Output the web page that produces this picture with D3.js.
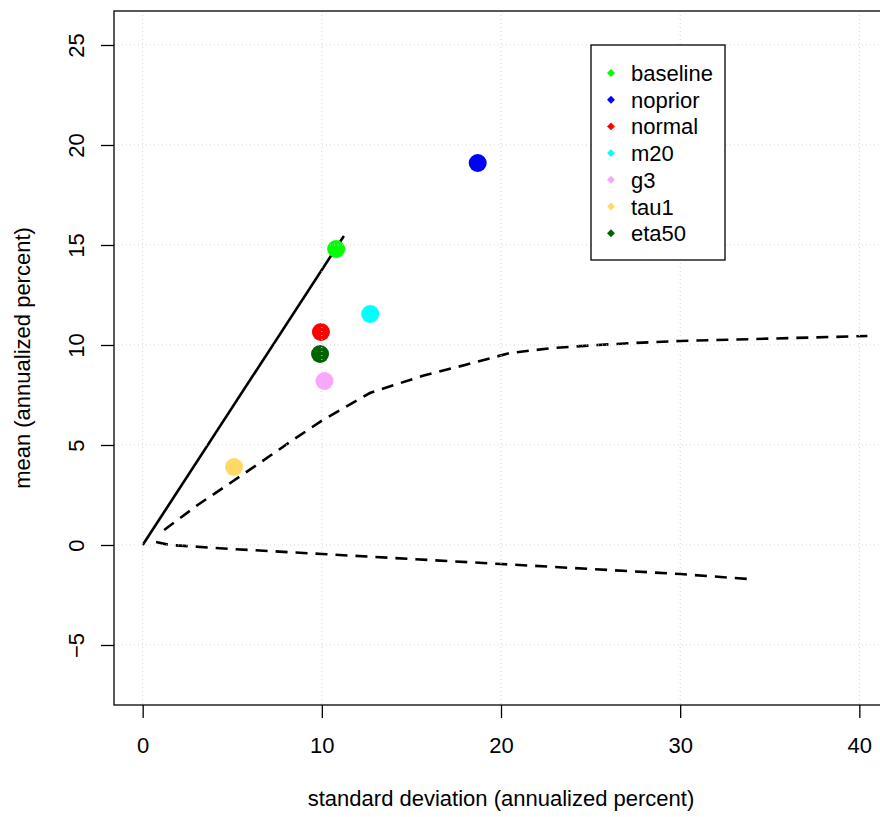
<!DOCTYPE html>
<html>
<head>
<meta charset="utf-8">
<script src="https://cdn.jsdelivr.net/npm/d3@7"></script>
<style>
  body { margin: 0; background: #fff; }
  svg text { font-family: "Liberation Sans", Arial, sans-serif; fill: #000; }
</style>
</head>
<body>
<svg id="chart" width="880" height="817"></svg>
<script>
// series / point data
const names = ['baseline', 'noprior', 'normal', 'm20', 'g3', 'tau1', 'eta50'];
const colors = ['#00ff00', '#0000ff', '#ff0000', '#00ffff', '#f9a8f9', '#ffd966', '#006400'];
const sdVals = [10.8, 18.7, 9.95, 12.7, 10.15, 5.1, 9.9];
const meanVals = [14.8, 19.1, 10.65, 11.55, 8.2, 3.9, 9.55];

// solid line from origin
const solidX = [0, 11.23];
const solidY = [0, 15.45];

// upper dashed frontier
const upperX = [1.2, 3.07, 4.97, 6.37, 8.38, 10.06, 12.68, 15.59, 17.99, 20.5, 22.9, 25.4, 27.4, 30.0, 40.45];
const upperY = [0.75, 2.0, 3.15, 4.0, 5.25, 6.25, 7.6, 8.45, 9.0, 9.6, 9.85, 10.0, 10.1, 10.2, 10.45];

// lower dashed frontier
const lowerX = [0.75, 1.5, 5, 10, 15, 20, 25, 30, 33.8];
const lowerY = [0.15, 0.0, -0.2, -0.45, -0.7, -0.95, -1.2, -1.45, -1.7];

const xTicks = [0, 10, 20, 30, 40];
const yTicks = [-5, 0, 5, 10, 15, 20, 25];

const box = { left: 114, right: 888, top: 11, bottom: 705 };
const fontSize = '22px';

const svg = d3.select('#chart');
const x = d3.scaleLinear().domain([-1.6, 41.6]).range([box.left, box.right]);
const y = d3.scaleLinear().domain([-8.0, 26.7]).range([box.bottom, box.top]);

const line = d3.line().x(d => x(d[0])).y(d => y(d[1]));

// lines
svg.append('path')
  .attr('d', line(d3.zip(solidX, solidY)))
  .attr('fill', 'none').attr('stroke', '#000').attr('stroke-width', 2.6);

svg.append('path')
  .attr('d', line(d3.zip(upperX, upperY)))
  .attr('fill', 'none').attr('stroke', '#000').attr('stroke-width', 2.6)
  .attr('stroke-dasharray', '12,8');

svg.append('path')
  .attr('d', line(d3.zip(lowerX, lowerY)))
  .attr('fill', 'none').attr('stroke', '#000').attr('stroke-width', 2.6)
  .attr('stroke-dasharray', '12,8');

// points
svg.selectAll('.pt')
  .data(names.map((n, i) => ({ n, c: colors[i], sd: sdVals[i], m: meanVals[i] })))
  .join('circle')
  .attr('class', 'pt')
  .attr('cx', d => x(d.sd))
  .attr('cy', d => y(d.m))
  .attr('r', 9)
  .attr('fill', d => d.c);

// grid (drawn on top, dotted light gray)
const grid = svg.append('g');
grid.selectAll('.gx').data(xTicks).join('line')
  .attr('x1', d => x(d)).attr('x2', d => x(d))
  .attr('y1', box.top).attr('y2', box.bottom)
  .attr('stroke', '#d3d3d3').attr('stroke-width', 1).attr('stroke-dasharray', '1,3');
grid.selectAll('.gy').data(yTicks).join('line')
  .attr('y1', d => y(d)).attr('y2', d => y(d))
  .attr('x1', box.left).attr('x2', box.right)
  .attr('stroke', '#d3d3d3').attr('stroke-width', 1).attr('stroke-dasharray', '1,3');

// box
svg.append('rect')
  .attr('x', box.left).attr('y', box.top)
  .attr('width', box.right - box.left).attr('height', box.bottom - box.top)
  .attr('fill', 'none').attr('stroke', '#000').attr('stroke-width', 1.3);

// x axis
const xAxis = d3.axisBottom(x).tickValues(xTicks).tickSize(13)
  .tickFormat(d3.format('d')).tickSizeOuter(0);
const xg = svg.append('g').attr('transform', `translate(0,${box.bottom})`).call(xAxis);
xg.select('.domain').remove();
xg.selectAll('line').attr('stroke-width', 1.3);
xg.selectAll('text')
  .attr('y', 48).attr('dy', null)
  .style('font-size', fontSize).style('font-family', '"Liberation Sans", Arial, sans-serif');

// y axis (labels parallel to axis)
const yAxis = d3.axisLeft(y).tickValues(yTicks).tickSize(13).tickSizeOuter(0)
  .tickFormat(d => d < 0 ? '\u2212' + Math.abs(d) : d);
const yg = svg.append('g').attr('transform', `translate(${box.left},0)`).call(yAxis);
yg.select('.domain').remove();
yg.selectAll('line').attr('stroke-width', 1.3);
yg.selectAll('text')
  .attr('x', null).attr('dy', null)
  .attr('text-anchor', 'middle')
  .attr('transform', 'translate(-30,0) rotate(-90)')
  .attr('y', 0)
  .style('font-size', fontSize).style('font-family', '"Liberation Sans", Arial, sans-serif');

// axis titles
svg.append('text')
  .attr('x', (box.left + box.right) / 2).attr('y', 806)
  .attr('text-anchor', 'middle').style('font-size', fontSize)
  .text('standard deviation (annualized percent)');
svg.append('text')
  .attr('transform', `translate(30,${(box.top + box.bottom) / 2}) rotate(-90)`)
  .attr('text-anchor', 'middle').style('font-size', fontSize)
  .text('mean (annualized percent)');

// legend
const lg = svg.append('g');
lg.append('rect')
  .attr('x', 591).attr('y', 45).attr('width', 134).attr('height', 215)
  .attr('fill', '#fff').attr('stroke', '#000').attr('stroke-width', 1.3);
const items = lg.selectAll('.item').data(names).join('g')
  .attr('transform', (d, i) => `translate(0,${73 + i * 26.7})`);
items.append('path')
  .attr('d', d3.symbol().type(d3.symbolDiamond2).size(40)())
  .attr('transform', 'translate(611,0)')
  .attr('fill', (d, i) => colors[i]);
items.append('text')
  .attr('x', 631).attr('y', 8)
  .style('font-size', fontSize)
  .text(d => d);
</script>
</body>
</html>
